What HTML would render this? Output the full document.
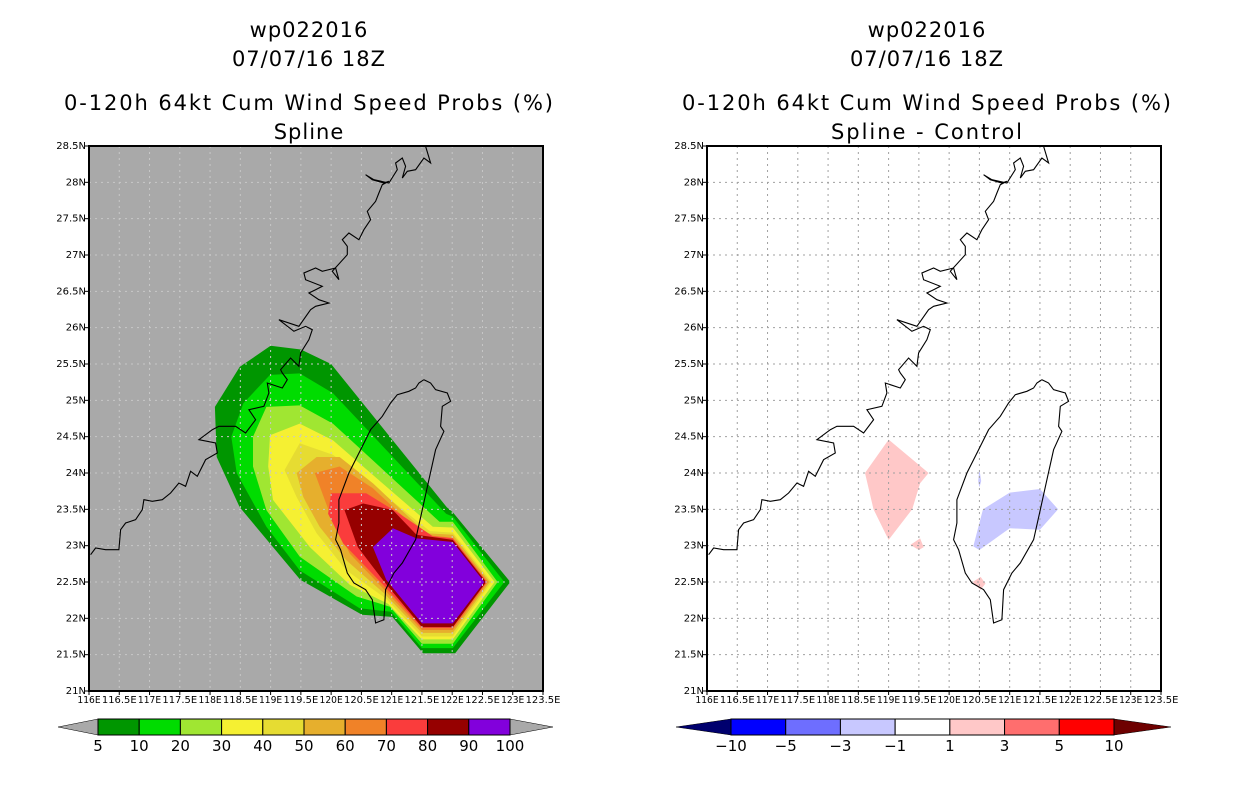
<!DOCTYPE html>
<html><head><meta charset="utf-8"><style>
html,body{margin:0;padding:0;background:#fff;width:1236px;height:800px;overflow:hidden}
svg{display:block}
text{font-family:"DejaVu Sans","Liberation Sans",sans-serif;fill:#000}
.t{font-size:21px;letter-spacing:1px}
.ax{font-size:10px}
.cb{font-size:15px}
</style></head><body>
<svg id="s" width="1236" height="800" viewBox="0 0 1236 800" xmlns="http://www.w3.org/2000/svg">
<g>
<text class="t" x="309" y="37" text-anchor="middle">wp022016</text>
<text class="t" x="309" y="66" text-anchor="middle">07/07/16 18Z</text>
<text class="t" x="309" y="110" text-anchor="middle" textLength="490" lengthAdjust="spacing">0-120h 64kt Cum Wind Speed Probs (%)</text>
<text class="t" x="309" y="139" text-anchor="middle">Spline</text>
</g>
<g>
<text class="t" x="927" y="37" text-anchor="middle">wp022016</text>
<text class="t" x="927" y="66" text-anchor="middle">07/07/16 18Z</text>
<text class="t" x="927" y="110" text-anchor="middle" textLength="490" lengthAdjust="spacing">0-120h 64kt Cum Wind Speed Probs (%)</text>
<text class="t" x="927" y="139" text-anchor="middle" textLength="192" lengthAdjust="spacing">Spline - Control</text>
</g>
<g id="L"></g>
<g id="R"></g>
<g id="CB"></g>
</svg>
<script>
const probLevels=[5,10,20,30,40,50,60,70,80,90];
const probColors=["#009600","#00DC00","#A0E632","#F5F032","#E6DC32","#E6AF2D","#F08228","#FA3C3C","#960000","#8200DC"];
const probContours=[
[[119,25.75],[119.5,25.7],[120,25.5],[121.91,23.53],[122.01,23.46],[122.96,22.5],[122.05,21.52],[121.52,21.52],[121.01,22.02],[120.51,22.05],[119.49,22.53],[118.49,23.53],[118.11,24.22],[118.08,24.91],[118.49,25.46]],
[[118.99,25.35],[119.48,25.37],[120.03,25.10],[121.9,23.44],[122.01,23.4],[122.86,22.5],[122.01,21.59],[121.5,21.59],[120.99,22.09],[120.47,22.14],[119.48,22.66],[118.93,23.26],[118.44,24.0],[118.35,24.5],[118.55,24.96]],
[[118.93,24.91],[119.48,24.93],[120.03,24.68],[121.79,23.33],[122.01,23.33],[122.75,22.5],[122.01,21.65],[121.5,21.65],[120.97,22.16],[120.42,22.3],[119.48,22.85],[118.93,23.49],[118.71,24.09],[118.71,24.5]],
[[118.99,24.52],[119.48,24.68],[120.03,24.45],[121.68,23.26],[122.01,23.25],[122.7,22.5],[122.01,21.71],[121.5,21.71],[120.94,22.2],[120.31,22.46],[119.65,22.98],[119.04,23.63],[118.96,24.09]],
[[119.48,24.41],[120.03,24.25],[120.58,23.9],[121.63,23.2],[122.01,23.18],[122.65,22.5],[122.01,21.75],[121.5,21.75],[120.91,22.27],[120.25,22.66],[119.76,23.17],[119.43,23.67],[119.23,24.04]],
[[119.43,24.0],[119.76,24.22],[120.14,24.22],[120.69,23.86],[121.57,23.17],[122.01,23.15],[122.62,22.5],[122.01,21.8],[121.5,21.8],[120.88,22.34],[120.25,22.8],[119.81,23.26],[119.54,23.67]],
[[119.73,24.0],[120.14,24.09],[120.69,23.79],[121.52,23.15],[122.01,23.11],[122.59,22.5],[122.01,21.84],[121.5,21.84],[120.86,22.41],[120.31,22.89],[119.98,23.44]],
[[120.0,23.72],[120.58,23.72],[121.13,23.44],[121.68,23.13],[122.01,23.1],[122.57,22.5],[122.01,21.87],[121.5,21.87],[120.86,22.46],[120.2,23.03],[119.95,23.44]],
[[120.22,23.49],[120.53,23.58],[121.02,23.49],[121.41,23.15],[122.01,23.08],[122.56,22.5],[122.01,21.88],[121.5,21.88],[120.88,22.5],[120.44,22.98]],
[[120.69,22.98],[121.02,23.24],[121.41,23.1],[122.01,23.05],[122.53,22.5],[122.01,21.93],[121.5,21.93],[120.91,22.53]]
];
const diffLevels=[-10,-5,-3,-1,1,3,5,10];
const diffColors=["#00006E","#0000FF","#6E6EFF","#C8C8FF","#FFFFFF","#FFC8C8","#FF6E6E","#FF0000","#6E0000"];
const diffPatchColor=[5,5,5,3,3];
const diffPatches=[
[[119,24.46],[119.66,24.0],[119.52,23.86],[119.39,23.5],[119,23.08],[118.75,23.5],[118.61,24.0]],
[[119.36,23.01],[119.52,23.1],[119.58,22.98],[119.5,22.94]],
[[120.39,22.5],[120.52,22.57],[120.6,22.48],[120.52,22.39]],
[[120.40,22.99],[120.56,23.5],[121.0,23.73],[121.5,23.78],[121.8,23.5],[121.5,23.22],[121.0,23.24],[120.5,22.94]],
[[120.48,23.89],[120.5,24.05],[120.53,23.89],[120.5,23.8]]
];
const chinaCoast=[[25,1245],[40,1225],[70,1230],[110,1230],[115,1170],[130,1150],[160,1140],[180,1110],[185,1080],[210,1085],[240,1080],[265,1060],[290,1030],[310,1040],[325,995],[345,1010],[370,960],[405,940],[400,910],[350,900],[390,870],[410,860],[460,860],[490,880],[520,840],[500,810],[545,800],[560,760],[555,730],[600,745],[615,720],[600,700],[595,690],[625,655],[650,680],[655,640],[680,600],[690,570],[670,560],[635,575],[590,540],[650,560],[685,510],[700,500],[740,490],[710,480],[680,460],[700,450],[720,440],[670,420],[665,400],[700,385],[720,395],[760,385],[770,420],[750,395],[795,345],[795,320],[780,300],[800,280],[830,300],[845,270],[865,240],[855,215],[880,185],[890,160],[900,135],[920,125],[905,130],[870,120],[850,105],[875,120],[920,130],[945,90],[940,70],[960,55],[970,80],[960,115],[975,95],[1000,90],[1025,55],[1045,70],[1030,20]];
const taiwanCoast=[[1025,720],[1045,730],[1060,750],[1095,760],[1105,785],[1080,800],[1075,860],[1085,875],[1060,930],[1040,1020],[1020,1110],[1000,1200],[960,1270],[935,1300],[910,1350],[905,1440],[880,1450],[870,1380],[850,1350],[815,1330],[795,1300],[775,1230],[760,1200],[770,1150],[770,1080],[800,1000],[835,930],[865,870],[900,830],[925,790],[945,765],[980,755],[1000,745],[1010,730],[1025,720]];
const NS="http://www.w3.org/2000/svg";
function el(t,a,p){const e=document.createElementNS(NS,t);for(const k in a)e.setAttribute(k,a[k]);p.appendChild(e);return e;}
const W=454,H=545,TOP=146,LON0=116,LAT0=21;
function xs(x0,lon){return x0+(lon-LON0)*W/7.5;}
function ys(lat){return TOP+H-(lat-LAT0)*H/7.5;}
function cl(p){return [119+(p[0]-565)/181.6,24+(1000-p[1])/218];}
function pts(x0,arr){return arr.map(p=>xs(x0,p[0]).toFixed(1)+","+ys(p[1]).toFixed(1)).join(" ");}
function panel(g,x0,bg){
  const r=el("rect",{x:x0,y:TOP,width:W,height:H,fill:bg},g);
  
  
}
function grid(g,x0,col){
  for(let i=1;i<15;i++){
    const x=xs(x0,LON0+i*0.5);
    const l=el("line",{x1:x,x2:x,y1:TOP,y2:TOP+H,stroke:col,"stroke-width":1,"stroke-dasharray":"2,4"},g);
    
    
    const y=ys(LAT0+i*0.5);
    const m=el("line",{x1:x0,x2:x0+W,y1:y,y2:y,stroke:col,"stroke-width":1,"stroke-dasharray":"2,4"},g);
    
    
  }
}
function coast(g,x0){
  [chinaCoast,taiwanCoast].forEach(c=>{
    const p=el("polyline",{points:pts(x0,c.map(cl)),fill:"none",stroke:"#000","stroke-width":1.1},g);
    
    
  });
}
function axes(g,x0){
  const f=el("rect",{x:x0,y:TOP,width:W,height:H,fill:"none",stroke:"#000","stroke-width":2},g);
  
  
  for(let i=0;i<=15;i++){
    const lat=LAT0+i*0.5,y=ys(lat);
    el("line",{x1:x0-4,x2:x0,y1:y,y2:y,stroke:"#000"},g);
    const t=el("text",{x:x0-3,y:y+3,"text-anchor":"end",class:"ax","font-size":"9.5px"},g);
    t.textContent=(lat%1?lat.toFixed(1):lat)+"N";
    
    
    const lon=LON0+i*0.5,x=xs(x0,lon);
    el("line",{x1:x,x2:x,y1:TOP+H,y2:TOP+H+4,stroke:"#000"},g);
    const s=(lon%1?lon.toFixed(1):""+lon)+"E";
    const u=el("text",{x:x,y:TOP+H+12,"text-anchor":"middle",class:"ax",textLength:s.length*5.8,lengthAdjust:"spacingAndGlyphs"},g);
    u.textContent=s;
    
    
  }
}
const L=document.getElementById("L"),R=document.getElementById("R");
const XL=89,XR=707;
panel(L,XL,"#A9A9A9");
probContours.forEach((c,i)=>{
  const p=el("polygon",{points:pts(XL,c),fill:probColors[i]},L);
  
  
});
grid(L,XL,"#C8C8C8");coast(L,XL);axes(L,XL);
panel(R,XR,"#FFFFFF");
diffPatches.forEach((c,i)=>{
  const p=el("polygon",{points:pts(XR,c),fill:diffColors[diffPatchColor[i]]},R);
  
  
});
grid(R,XR,"#A0A0A0");coast(R,XR);axes(R,XR);
const CB=document.getElementById("CB");
function colorbar(x0,x1,tipL,tipR,cols,labels,endL,endR){
  const n=cols.length,w=(x1-x0)/n,y0=719,y1=735,ym=727;
  const a=el("polygon",{points:`${tipL},${ym} ${x0},${y0} ${x0},${y1}`,fill:endL,stroke:"#000","stroke-width":0.5},CB);
  
  
  const b=el("polygon",{points:`${tipR},${ym} ${x1},${y0} ${x1},${y1}`,fill:endR,stroke:"#000","stroke-width":0.5},CB);
  
  
  cols.forEach((c,i)=>{
    const r=el("rect",{x:x0+i*w,y:y0,width:w,height:y1-y0,fill:c,stroke:"#000","stroke-width":1},CB);
    
    
  });
  labels.forEach((l,i)=>{
    const t=el("text",{x:x0+i*w,y:751,"text-anchor":"middle",class:"cb"},CB);
    t.textContent=l;
    
    
  });
}
colorbar(98,510,58,553,probColors,probLevels.concat([100]),"#A9A9A9","#A9A9A9");
colorbar(731,1114,676,1171,diffColors.slice(1,8),diffLevels.map(v=>v<0?"\u2212"+(-v):""+v),diffColors[0],diffColors[8]);
</script>
</body></html>
